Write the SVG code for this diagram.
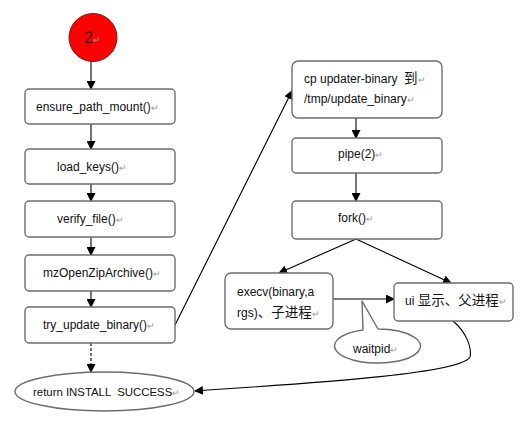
<svg xmlns="http://www.w3.org/2000/svg" width="522" height="421" viewBox="0 0 522 421">
<style>
.box{fill:#fff;stroke:#6e6e6e;stroke-width:1.4}
.t{font-family:"Liberation Sans","Noto Sans CJK SC",sans-serif;font-size:12px;fill:#111;white-space:pre}
.cjk{font-size:13.5px}
.pm{fill:#9a9a9a;font-size:9px}
.ln{fill:none;stroke:#000;stroke-width:1.1}
</style>
<defs>
<marker id="ah" markerWidth="9" markerHeight="9" refX="8" refY="4.5" orient="auto" markerUnits="userSpaceOnUse">
<path d="M0,0 L9,4.5 L0,9 Z" fill="#000"/>
</marker>
</defs>
<rect width="522" height="421" fill="#fff"/>
<g id="connectors">
<line class="ln" x1="91" y1="61" x2="91" y2="89" marker-end="url(#ah)"/>
<line class="ln" x1="91" y1="124" x2="91" y2="149" marker-end="url(#ah)"/>
<line class="ln" x1="91" y1="184" x2="91" y2="201" marker-end="url(#ah)"/>
<line class="ln" x1="91" y1="237" x2="91" y2="255" marker-end="url(#ah)"/>
<line class="ln" x1="91" y1="291" x2="91" y2="307" marker-end="url(#ah)"/>
<line class="ln" x1="91" y1="343" x2="91" y2="372" stroke-dasharray="3,2" marker-end="url(#ah)"/>
<line class="ln" x1="175" y1="325" x2="292" y2="91" marker-end="url(#ah)"/>
<line class="ln" x1="356" y1="118" x2="356" y2="138" marker-end="url(#ah)"/>
<line class="ln" x1="356" y1="173" x2="356" y2="201" marker-end="url(#ah)"/>
<line class="ln" x1="356" y1="239" x2="279" y2="273" marker-end="url(#ah)"/>
<line class="ln" x1="356" y1="239" x2="451" y2="283" marker-end="url(#ah)"/>
<line class="ln" x1="333" y1="299" x2="394" y2="299" marker-end="url(#ah)"/>
<path class="ln" d="M453,321 C466,332 472,347 470,357 C462,373 330,382 195,391" marker-end="url(#ah)"/>
</g>
<g id="n-start">
<circle cx="93" cy="37.5" r="24" fill="#f00" stroke="#7a1a1a" stroke-width="1"/>
<text class="t" x="84" y="43" style="font-size:16px;fill:#3a0a0a">2<tspan class="pm">↵</tspan></text>
</g>
<g id="n-ensure">
<rect class="box" x="25" y="89" width="150" height="35" rx="4"/>
<text class="t" x="36" y="111">ensure_path_mount()<tspan class="pm">↵</tspan></text>
</g>
<g id="n-load">
<rect class="box" x="25" y="149" width="150" height="35" rx="4"/>
<text class="t" x="57" y="171">load_keys()<tspan class="pm">↵</tspan></text>
</g>
<g id="n-verify">
<rect class="box" x="25" y="201" width="150" height="36" rx="4"/>
<text class="t" x="57" y="223">verify_file()<tspan class="pm">↵</tspan></text>
</g>
<g id="n-mzopen">
<rect class="box" x="25" y="255" width="150" height="36" rx="4"/>
<text class="t" x="43" y="277">mzOpenZipArchive()<tspan class="pm">↵</tspan></text>
</g>
<g id="n-try">
<rect class="box" x="25" y="307" width="150" height="36" rx="4"/>
<text class="t" x="43" y="329">try_update_binary()<tspan class="pm">↵</tspan></text>
</g>
<g id="n-return">
<ellipse class="box" cx="104.5" cy="391.5" rx="89.5" ry="19.5"/>
<text class="t" x="33" y="396" style="font-size:11.4px">return INSTALL  SUCCESS<tspan class="pm">↵</tspan></text>
</g>
<g id="n-cp">
<rect class="box" x="292" y="61" width="150" height="57" rx="6"/>
<text class="t" x="304" y="83">cp updater-binary  <tspan class="cjk">到</tspan><tspan class="pm">↵</tspan></text>
<text class="t" x="304" y="103">/tmp/update_binary<tspan class="pm">↵</tspan></text>
</g>
<g id="n-pipe">
<rect class="box" x="292" y="138" width="150" height="35" rx="4"/>
<text class="t" x="338" y="158">pipe(2)<tspan class="pm">↵</tspan></text>
</g>
<g id="n-fork">
<rect class="box" x="292" y="201" width="150" height="38" rx="4"/>
<text class="t" x="338" y="222">fork()<tspan class="pm">↵</tspan></text>
</g>
<g id="n-execv">
<rect class="box" x="225" y="273" width="108" height="56" rx="6"/>
<text class="t" x="237" y="296">execv(binary,a</text>
<text class="t" x="237" y="317">rgs)<tspan class="cjk">、子进程</tspan><tspan class="pm">↵</tspan></text>
</g>
<g id="n-ui">
<rect class="box" x="394" y="283" width="119" height="38" rx="4"/>
<text class="t" x="405" y="305">ui <tspan class="cjk">显示、父进程</tspan><tspan class="pm">↵</tspan></text>
</g>
<g id="n-waitpid">
<path class="box" d="M362,301 L363,330 A43,17 0 1 0 378,329 Z" stroke-linejoin="round"/>
<text class="t" x="353" y="353">waitpid<tspan class="pm">↵</tspan></text>
</g>
</svg>
